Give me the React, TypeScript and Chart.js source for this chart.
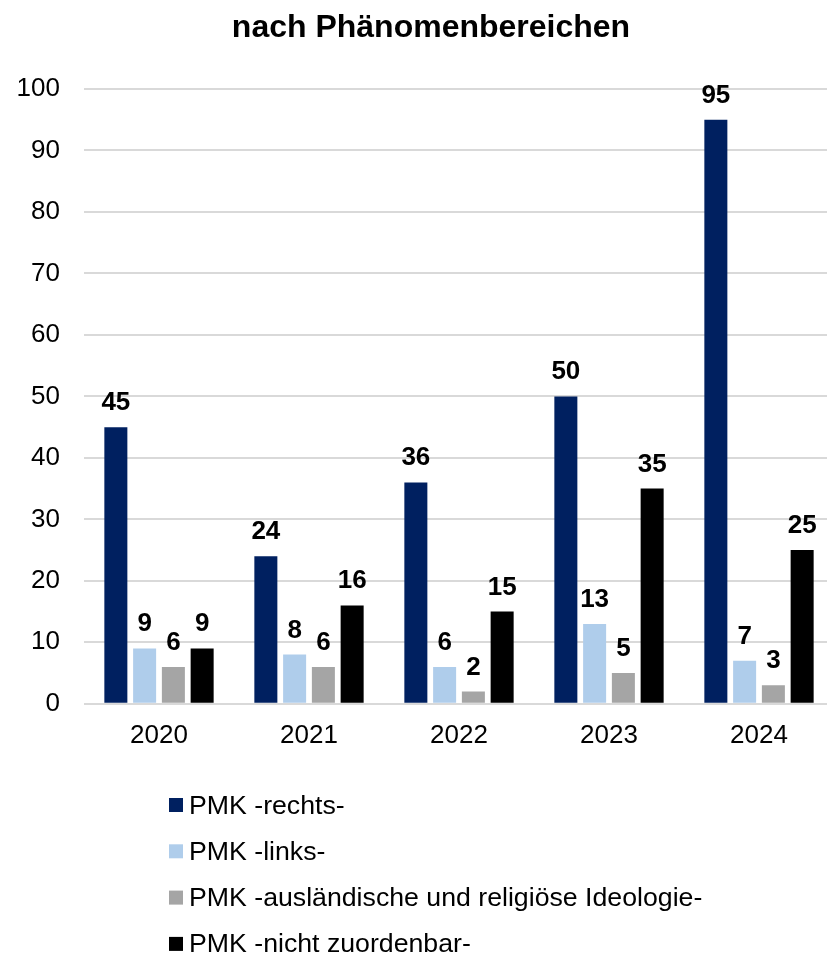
import React, { useEffect, useRef } from "react";
import { Chart, registerables } from "chart.js";

Chart.register(...registerables);

const TITLE = "nach Phänomenbereichen";
const categories = ["2020", "2021", "2022", "2023", "2024"];
const rechts = [45, 24, 36, 50, 95];
const links = [9, 8, 6, 13, 7];
const auslaendisch = [6, 6, 2, 5, 3];
const nichtZuordenbar = [9, 16, 15, 35, 25];
const seriesLabels = [
  "PMK -rechts-",
  "PMK -links-",
  "PMK -ausländische und religiöse Ideologie-",
  "PMK -nicht zuordenbar-",
];
const seriesColors = ["#002060", "#AFCDEB", "#A5A5A5", "#000000"];
const yTicks = [0, 10, 20, 30, 40, 50, 60, 70, 80, 90, 100];

const FONT = '"Liberation Sans", Arial, sans-serif';

const titlePlugin = {
  id: "customTitle",
  afterDraw(chart: any) {
    const ctx = chart.ctx;
    ctx.save();
    ctx.font = `bold 32px ${FONT}`;
    ctx.fillStyle = "#000";
    ctx.textAlign = "center";
    ctx.textBaseline = "alphabetic";
    ctx.fillText(TITLE, 431, 37);
    ctx.restore();
  },
};

const valueLabelPlugin = {
  id: "valueLabels",
  afterDatasetsDraw(chart: any) {
    const ctx = chart.ctx;
    ctx.save();
    ctx.font = `bold 26px ${FONT}`;
    ctx.fillStyle = "#000";
    ctx.textAlign = "center";
    ctx.textBaseline = "alphabetic";
    chart.data.datasets.forEach((ds: any, di: number) => {
      const meta = chart.getDatasetMeta(di);
      meta.data.forEach((bar: any, i: number) => {
        ctx.fillText(String(ds.data[i]), bar.x, bar.y - 17);
      });
    });
    ctx.restore();
  },
};

const customLegendPlugin = {
  id: "customLegend",
  afterDraw(chart: any) {
    const ctx = chart.ctx;
    ctx.save();
    ctx.font = `26.7px ${FONT}`;
    ctx.textAlign = "left";
    ctx.textBaseline = "alphabetic";
    chart.data.datasets.forEach((ds: any, i: number) => {
      const cy = 805 + i * 46.3;
      ctx.fillStyle = ds.backgroundColor;
      ctx.fillRect(169, cy - 7, 14, 14);
      ctx.fillStyle = "#000";
      ctx.fillText(ds.label, 189, cy + 8.5);
    });
    ctx.restore();
  },
};

export default function App() {
  const canvasRef = useRef<HTMLCanvasElement | null>(null);

  useEffect(() => {
    if (!canvasRef.current) return;
    const seriesData = [rechts, links, auslaendisch, nichtZuordenbar];
    const chart = new Chart(canvasRef.current, {
      type: "bar",
      data: {
        labels: categories,
        datasets: seriesData.map((d, i) => ({
          label: seriesLabels[i],
          data: d,
          backgroundColor: seriesColors[i],
          borderWidth: 0,
          barPercentage: 0.8,
          categoryPercentage: 0.767,
        })),
      },
      options: {
        animation: false,
        responsive: false,
        maintainAspectRatio: false,
        layout: { padding: { top: 89, left: 0, right: 0, bottom: 186 } },
        plugins: {
          legend: { display: false },
          tooltip: { enabled: false },
          title: { display: false },
        },
        scales: {
          x: {
            grid: { display: false, drawTicks: false },
            border: { display: false },
            ticks: {
              color: "#000",
              font: { family: FONT, size: 26 },
              padding: 16,
            },
          },
          y: {
            min: 0,
            max: 100,
            afterFit(scale: any) {
              scale.width = 84;
            },
            afterBuildTicks(scale: any) {
              scale.ticks = yTicks.map((v) => ({ value: v }));
            },
            grid: { color: "#D9D9D9", lineWidth: 2, drawTicks: false },
            border: { display: false },
            ticks: {
              color: "#000",
              font: { family: FONT, size: 26 },
              padding: 24,
            },
          },
        },
      },
      plugins: [titlePlugin, valueLabelPlugin, customLegendPlugin],
    } as any);
    return () => chart.destroy();
  }, []);

  return (
    <div
      style={{
        position: "fixed",
        left: 0,
        top: 0,
        width: 827,
        height: 953,
        overflow: "hidden",
        background: "#fff",
      }}
    >
      <canvas
        ref={canvasRef}
        width={834}
        height={953}
        style={{ display: "block", width: 834, height: 953 }}
      />
    </div>
  );
}
